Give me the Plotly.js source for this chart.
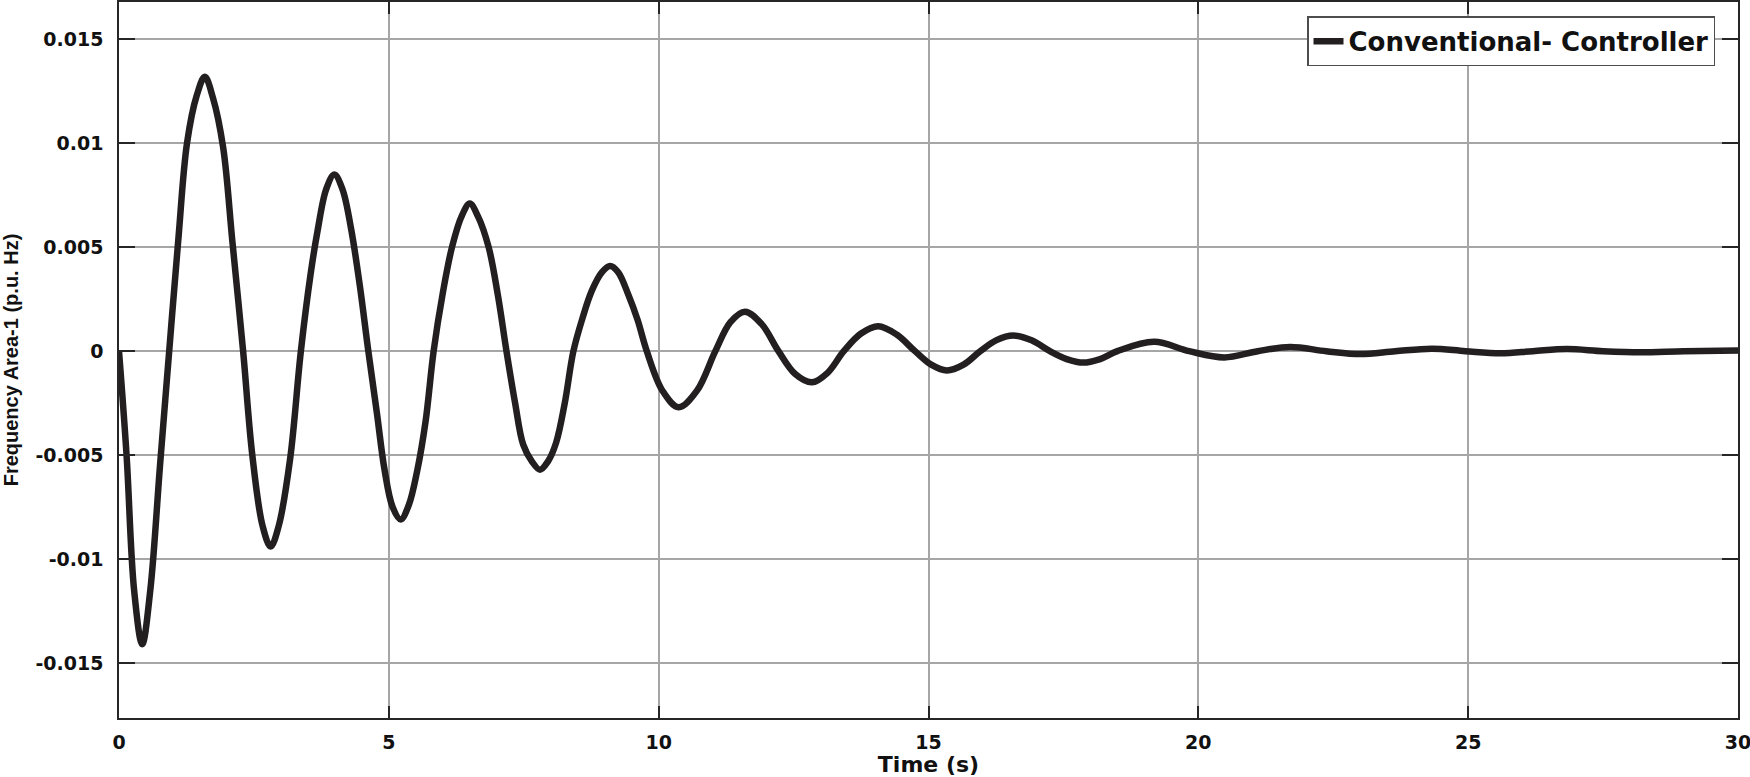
<!DOCTYPE html>
<html lang="en">
    <head>
        <meta charset="UTF-8">
        <title>Frequency Area-1</title>
        <script src="https://cdn.plot.ly/plotly-3.0.1.min.js"></script>
        <style>
            body { margin: 0; background: #fff; overflow: hidden; }
        </style>
    </head>
    <body>

        <div id="plot" style="width:1750px;height:777px;"></div>

        <script>
        // Values
        const timeS = [0, 0.14, 0.28, 0.43, 0.58, 0.76, 0.93, 1.1, 1.26, 1.44,
            1.59, 1.74, 1.93, 2.1, 2.3, 2.47, 2.66, 2.81, 2.96, 3.17,
            3.37, 3.55, 3.68, 3.84, 3.99, 4.14, 4.3, 4.46, 4.62, 4.78,
            4.92, 5.07, 5.22, 5.37, 5.53, 5.68, 5.83, 6.0, 6.17, 6.35,
            6.5, 6.65, 6.85, 7.02, 7.18, 7.34, 7.49, 7.65, 7.8, 7.95,
            8.1, 8.26, 8.42, 8.59, 8.76, 8.95, 9.1, 9.25, 9.44, 9.61,
            9.78, 10.07, 10.37, 10.71, 11.05, 11.33, 11.6, 11.91, 12.22, 12.53,
            12.84, 13.13, 13.43, 13.75, 14.07, 14.41, 14.75, 15.05, 15.34, 15.65,
            15.96, 16.26, 16.57, 16.91, 17.25, 17.56, 17.87, 18.18, 18.5, 19.18,
            19.83, 20.48, 21.1, 21.7, 22.37, 23.0, 23.65, 24.33, 24.95, 25.6,
            26.2, 26.83, 27.5, 28.2, 29.0, 30];
        const freqArea1 = [0, -0.005, -0.0115, -0.0141, -0.0115, -0.0055, 0, 0.0054, 0.01, 0.0123,
            0.0132, 0.0122, 0.0098, 0.0053, 0, -0.005, -0.0084, -0.0094, -0.0084, -0.0052,
            0, 0.0037, 0.0058, 0.0078, 0.0085, 0.0078, 0.0059, 0.0032, 0, -0.003,
            -0.0057, -0.0075, -0.0081, -0.0074, -0.0057, -0.0034, 0, 0.0028, 0.005, 0.0065,
            0.0071, 0.0065, 0.005, 0.0027, 0, -0.0025, -0.0045, -0.0053, -0.0057, -0.0053,
            -0.0044, -0.0025, 0, 0.0016, 0.0029, 0.0038, 0.0041, 0.0038, 0.0027, 0.0015,
            0, -0.0019, -0.0027, -0.0019, 0, 0.0014, 0.0019, 0.0013, 0, -0.0011,
            -0.0015, -0.00104, 0, 0.00085, 0.0012, 0.0008, 0, -0.00065, -0.00093, -0.00065,
            0, 0.00053, 0.00075, 0.00052, 0, -0.00038, -0.00055, -0.00038, 0, 0.00045,
            0, -0.0003, 0, 0.0002, 0, -0.00014, 0, 0.00012, 0, -0.0001,
            0, 0.0001, 0, -0.00005, 0, 0.00003];

        const xTickVals = [0, 5, 10, 15, 20, 25, 30];
        const yTickVals = [-0.015, -0.01, -0.005, 0, 0.005, 0.01, 0.015];
        const yTickText = ['-0.015', '-0.01', '-0.005', '0', '0.005', '0.01', '0.015'];

        const tickFont = { family: 'DejaVu Sans', size: 19, weight: 'bold', color: '#111' };

        const trace = {
            x: timeS,
            y: freqArea1,
            type: 'scatter',
            mode: 'lines',
            name: 'Conventional- Controller',
            line: { color: '#231f20', width: 6.5, shape: 'spline', smoothing: 1 }
        };

        const axisCommon = {
            showline: true,
            linecolor: '#262626',
            linewidth: 1.5,
            mirror: 'allticks',
            ticks: 'inside',
            tickcolor: '#262626',
            tickwidth: 1.5,
            showgrid: true,
            gridcolor: '#a6a6a6',
            gridwidth: 1.5,
            zeroline: false,
            tickfont: tickFont,
            ticklabeloverflow: 'allow'
        };

        const layout = {
            width: 1750,
            height: 777,
            margin: { l: 119, r: 12, t: 2, b: 59 },
            paper_bgcolor: '#fff',
            plot_bgcolor: '#fff',
            showlegend: true,
            xaxis: Object.assign({}, axisCommon, {
                range: [0, 30],
                tickmode: 'array',
                tickvals: xTickVals,
                ticklen: 12,
                ticklabelstandoff: 6,
                title: {
                    text: 'Time (s)',
                    font: { family: 'DejaVu Sans', size: 22, weight: 'bold', color: '#111' },
                    standoff: 2
                }
            }),
            yaxis: Object.assign({}, axisCommon, {
                range: [-0.01765, 0.0168],
                tickmode: 'array',
                tickvals: yTickVals,
                ticktext: yTickText,
                ticklen: 16,
                ticklabelstandoff: 10,
                title: {
                    text: 'Frequency Area-1 (p.u. Hz)',
                    font: { family: 'Liberation Sans', size: 20, weight: 'bold', color: '#111' },
                    standoff: 12
                }
            }),
            legend: {
                x: 0.9858,
                y: 0.98,
                xanchor: 'right',
                yanchor: 'top',
                bgcolor: '#fff',
                bordercolor: '#4d4d4d',
                borderwidth: 1.5,
                font: { family: 'DejaVu Sans', size: 26, weight: 'bold', color: '#111' }
            }
        };

        Plotly.newPlot('plot', [trace], layout, { displayModeBar: false });
        </script>

    </body>
</html>
